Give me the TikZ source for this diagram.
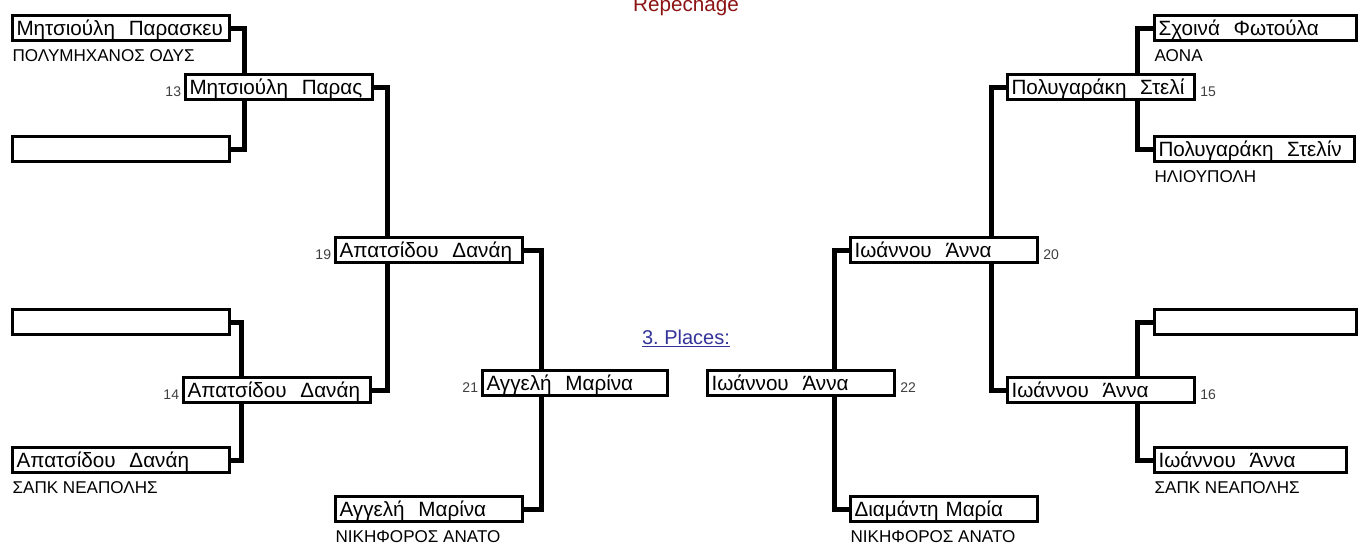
\documentclass[tikz,border=0pt]{standalone}
\usepackage{fontspec}
\setmainfont{Liberation Sans}
\usetikzlibrary{backgrounds}
\definecolor{repred}{RGB}{140,20,20}
\definecolor{placeblue}{RGB}{51,51,153}
\tikzset{
  pbox/.style={draw,fill=white,line width=2.25pt,anchor=north west,inner xsep=3pt,inner ysep=0pt,
    minimum height=18.75pt,text height=11pt,text depth=0.5pt,align=left,
    font=\fontsize{15.5}{18}\selectfont,text width=#1},
  club/.style={anchor=north west,inner sep=0pt,text height=9.2pt,font=\fontsize{12.8}{15}\selectfont,
    xshift=1pt,yshift=-5.5pt},
  numl/.style={anchor=south east,inner sep=0pt,font=\fontsize{10.5}{12}\selectfont,text=black!75,
    xshift=-2pt,yshift=3pt},
  numr/.style={anchor=south west,inner sep=0pt,font=\fontsize{10.5}{12}\selectfont,text=black!75,
    xshift=3pt,yshift=3pt},
  link/.style={line width=3.75pt}
}
\begin{document}
\begin{tikzpicture}[x=0.75pt,y=-0.75pt]
  \useasboundingbox (0,0) rectangle (1367,547);

  % left half
  \node[pbox=156.75pt] (a1) at (11,14)  {Μητσιούλη\ \ Παρασκευ};
  \node[pbox=156.75pt] (a2) at (11,135) {};
  \node[pbox=156.75pt] (a3) at (11,308) {};
  \node[pbox=156.75pt] (a4) at (11,446) {Απατσίδου\ \ Δανάη};
  \node[pbox=134.25pt] (b13) at (184,73)  {Μητσιούλη\ \ Παρας};
  \node[pbox=134.25pt] (b14) at (182,376) {Απατσίδου\ \ Δανάη};
  \node[pbox=134.25pt] (c19) at (334,236) {Απατσίδου\ \ Δανάη};
  \node[pbox=132.75pt] (d21) at (481,369) {Αγγελή\ \ Μαρίνα};
  \node[pbox=134.25pt] (e1)  at (334,495) {Αγγελή\ \ Μαρίνα};

  % right half
  \node[pbox=145.5pt] (f1) at (1153,14)  {Σχοινά\ \ Φωτούλα};
  \node[pbox=144pt]   (f2) at (1153,135) {Πολυγαράκη\ \ Στελίν};
  \node[pbox=145.5pt] (f3) at (1153,308) {};
  \node[pbox=138pt]   (f4) at (1153,446) {Ιωάννου\ \ Άννα};
  \node[pbox=134.25pt] (g15) at (1006,73)  {Πολυγαράκη\ \ Στελί};
  \node[pbox=134.25pt] (g16) at (1006,376) {Ιωάννου\ \ Άννα};
  \node[pbox=134.25pt] (h20) at (849,236)  {Ιωάννου\ \ Άννα};
  \node[pbox=134.25pt] (i22) at (706,369)  {Ιωάννου\ \ Άννα};
  \node[pbox=134.25pt] (j1)  at (849,495)  {Διαμάντη Μαρία};

  % clubs
  \node[club] (ca1) at (a1.south west) {ΠΟΛΥΜΗΧΑΝΟΣ ΟΔΥΣ};
  \node[club] (ca4) at (a4.south west) {ΣΑΠΚ ΝΕΑΠΟΛΗΣ};
  \node[club] (ce1) at (e1.south west) {ΝΙΚΗΦΟΡΟΣ ΑΝΑΤΟ};
  \node[club] (cf1) at (f1.south west) {ΑΟΝΑ};
  \node[club] (cf2) at (f2.south west) {ΗΛΙΟΥΠΟΛΗ};
  \node[club] (cf4) at (f4.south west) {ΣΑΠΚ ΝΕΑΠΟΛΗΣ};
  \node[club] (cj1) at (j1.south west) {ΝΙΚΗΦΟΡΟΣ ΑΝΑΤΟ};

  % match numbers
  \node[numl] (n13) at (b13.south west) {13};
  \node[numl] (n14) at (b14.south west) {14};
  \node[numl] (n19) at (c19.south west) {19};
  \node[numl] (n21) at (d21.south west) {21};
  \node[numr] (n15) at (g15.south east) {15};
  \node[numr] (n16) at (g16.south east) {16};
  \node[numr] (n20) at (h20.south east) {20};
  \node[numr] (n22) at (i22.south east) {22};

  \node[anchor=base,inner sep=0pt,text=repred,font=\fontsize{15.5}{18}\selectfont] (rep) at (686,11) {Repechage};
  \node[anchor=base,inner sep=0pt,text=placeblue,font=\fontsize{15}{18}\selectfont] (places) at (686,344) {\underline{3.\ Places:}};

  \begin{pgfonlayer}{background}
  \foreach \from/\to/\side/\dx in {a1/a2/east/13,a3/a4/east/10,b13/b14/east/13,c19/e1/east/17,
      f1/f2/west/-16,f3/f4/west/-16,g15/g16/west/-15,h20/j1/west/-15}
    \draw[link] (\from.\side) -- ++(\dx,0) |- (\to.\side);
  \end{pgfonlayer}
\end{tikzpicture}
\end{document}
